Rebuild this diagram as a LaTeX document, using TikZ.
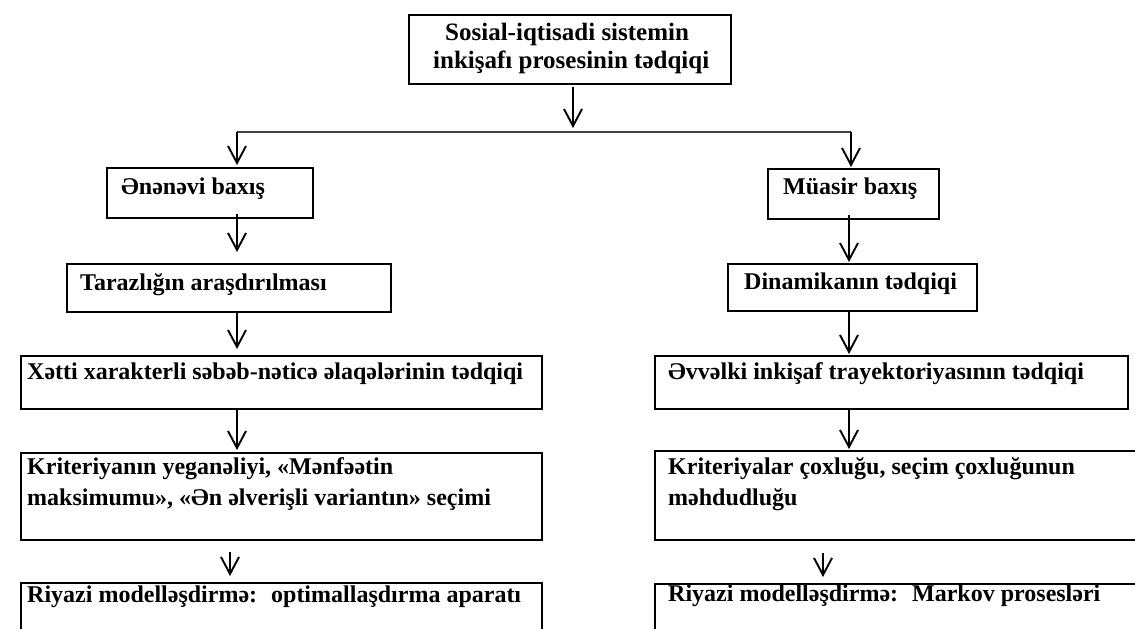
\documentclass[tikz,border=0pt]{standalone}
\usepackage{fontspec}
\setmainfont{Liberation Serif}
\usetikzlibrary{arrows.meta}
\begin{document}
\begin{tikzpicture}[x=1pt,y=-1pt,
  box/.style={draw, line width=2.2pt, inner sep=0pt, anchor=north west},
  txt/.style={anchor=base west, inner sep=0pt, font=\fontsize{24}{31}\selectfont\bfseries},
  mtxt/.style={anchor=north west, inner sep=0pt, align=left, font=\fontsize{24}{31}\selectfont\bfseries},
  arr/.style={line width=1.9pt, -{Straight Barb[length=17pt,width=18pt,line width=1.9pt]}},
  hline/.style={line width=1.6pt, draw=black!75},
]
\useasboundingbox (0,0) rectangle (1135,629);
\fill[white] (0,0) rectangle (1135,629);
\clip (0,0) rectangle (1135,629);

% boxes
\node[box, minimum width=322pt, minimum height=69pt] (top) at (408,14) {};
\node[box, minimum width=206pt, minimum height=50pt] (L1) at (106,167) {};
\node[box, minimum width=171pt, minimum height=50pt] (R1) at (767,168) {};
\node[box, minimum width=324pt, minimum height=48pt] (L2) at (66,263) {};
\node[box, minimum width=249pt, minimum height=47pt] (R2) at (727,263) {};
\node[box, minimum width=521pt, minimum height=53pt] (L3) at (20,355) {};
\node[box, minimum width=473pt, minimum height=53pt] (R3) at (654,355) {};
\node[box, minimum width=521pt, minimum height=87pt] (L4) at (20,452) {};
\node[box, minimum width=500pt, minimum height=89pt] (R4) at (654,450) {};
\node[box, minimum width=521pt, minimum height=70pt] (L5) at (20,582) {};
\node[box, minimum width=500pt, minimum height=70pt] (R5) at (654,583) {};

% texts
\node[mtxt, font=\fontsize{25}{28}\selectfont\bfseries] (t0) at (433,20.4)
  {\strut\hspace*{12pt}Sosial-iqtisadi sistemin\\inkişafı prosesinin tədqiqi};
\node[txt] (tL1) at (121,194) {Ənənəvi baxış};
\node[txt] (tR1) at (783,194) {Müasir baxış};
\node[txt] (tL2) at (80,290) {Tarazlığın araşdırılması};
\node[txt] (tR2) at (744,289) {Dinamikanın tədqiqi};
\node[txt] (tL3) at (27,379) {Xətti xarakterli səbəb-nəticə əlaqələrinin tədqiqi};
\node[txt] (tR3) at (668,379) {Əvvəlki inkişaf trayektoriyasının tədqiqi};
\node[mtxt] (tL4) at (27,452.3) {\strut Kriteriyanın yeganəliyi, «Mənfəətin\\maksimumu», «Ən əlverişli variantın» seçimi};
\node[mtxt] (tR4) at (668,452.3) {\strut Kriteriyalar çoxluğu, seçim çoxluğunun\\məhdudluğu};
\node[txt] (tL5) at (27,602) {Riyazi modelləşdirmə:\hspace{6pt} optimallaşdırma aparatı};
\node[txt] (tR5) at (668,601) {Riyazi modelləşdirmə:\hspace{6pt} Markov prosesləri};

% connector coordinates
\coordinate (j0) at (573,128);
\coordinate (hl) at (237,132);
\coordinate (hr) at (851,132);
\coordinate (lc) at (237,0);
\coordinate (rc) at (849,0);
\coordinate (lc2) at (230,0);
\coordinate (rc2) at (823,0);

% connectors
\draw[arr, shorten <=2pt] (top.south -| j0) -- (j0);
\draw[hline] (hl) -- (hr);
\draw[arr, shorten >=2pt] (hl) -- (hl |- L1.north);
\draw[arr, shorten >=1pt] (hr) -- (hr |- R1.north);
\draw[arr, shorten <=-5pt, shorten >=11pt] (L1.south -| lc) -- (L2.north -| lc);
\draw[arr, shorten <=-5pt, shorten >=1pt] (R1.south -| rc) -- (R2.north -| rc);
\draw[arr, shorten >=6pt] (L2.south -| lc) -- (L3.north -| lc);
\draw[arr, shorten >=1pt] (R2.south -| rc) -- (R3.north -| rc);
\draw[arr, shorten >=2pt] (L3.south -| lc) -- (L4.north -| lc);
\draw[arr, shorten >=1pt] (R3.south -| rc) -- (R4.north -| rc);
\draw[arr, shorten <=11pt, shorten >=6pt] (L4.south -| lc2) -- (L5.north -| lc2);
\draw[arr, shorten <=12pt, shorten >=6pt] (R4.south -| rc2) -- (R5.north -| rc2);
\end{tikzpicture}
\end{document}
